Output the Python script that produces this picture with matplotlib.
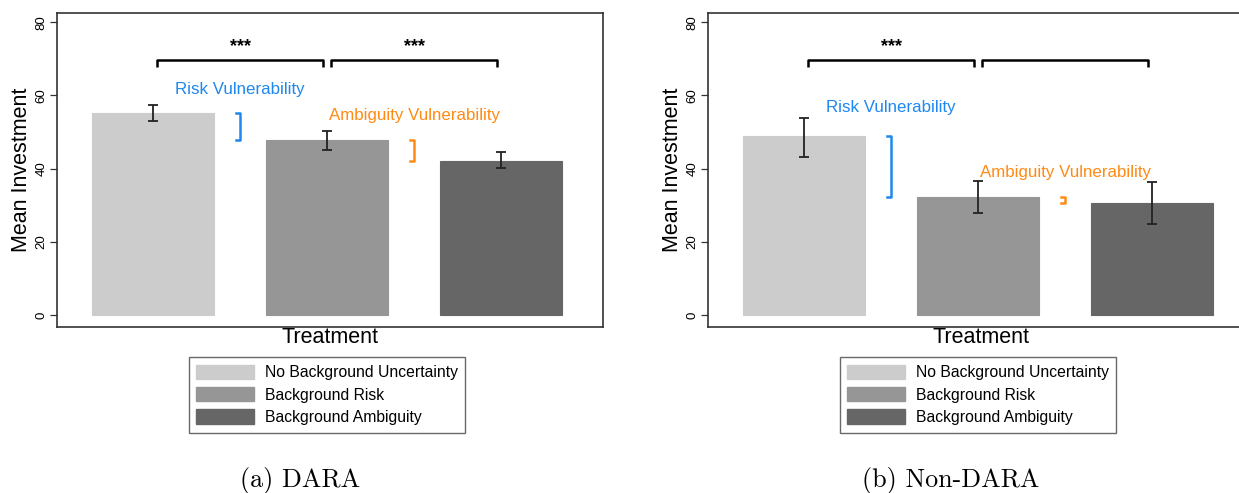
import matplotlib
matplotlib.use("Agg")
import matplotlib.pyplot as plt
from matplotlib.patches import Patch

plt.rcParams["font.family"] = ["Liberation Sans", "DejaVu Sans"]

# data
treatments = ["No Background Uncertainty", "Background Risk", "Background Ambiguity"]
bar_colors = ["#cccccc", "#969696", "#666666"]

dara_mean = [55.2, 47.8, 42.0]
dara_lo = [53.0, 45.1, 40.2]
dara_hi = [57.3, 50.3, 44.5]

nondara_mean = [48.9, 32.2, 30.6]
nondara_lo = [43.2, 27.9, 24.9]
nondara_hi = [53.8, 36.6, 36.3]

# significance stars per bracket (1 vs 2, 2 vs 3)
dara_stars = ["***", "***"]
nondara_stars = ["***", ""]

# y of the vulnerability labels
dara_label_y = [61.7, 54.6]
nondara_label_y = [56.6, 38.8]

captions = ["(a) DARA", "(b) Non-DARA"]

W, H = 1239, 493
fig = plt.figure(figsize=(W / 100, H / 100), dpi=100)


def draw_bracket(ax, x0, x1, y, drop=2.0):
    ax.plot([x0, x0, x1, x1], [y - drop, y, y, y - drop], color="black",
            lw=1.8, solid_joinstyle="round", solid_capstyle="butt", clip_on=False)


def draw_side_bracket(ax, x, y0, y1, color):
    tick = 0.022
    ax.plot([x - tick, x, x, x - tick], [y0, y0, y1, y1], color=color,
            lw=1.8, solid_joinstyle="round")


def panel(left_px, mean, lo, hi, stars, label_y, caption):
    ax = fig.add_axes([left_px / W, 1 - 327 / H, 546 / W, 314 / H])
    xs = [0, 1, 2]
    yerr = [[m - l for m, l in zip(mean, lo)], [h - m for m, h in zip(mean, hi)]]
    ax.bar(xs, mean, width=0.70, color=bar_colors, edgecolor=bar_colors, lw=0.8)
    ax.errorbar(xs, mean, yerr=yerr, fmt="none", ecolor="#222222",
                elinewidth=1.3, capsize=3.5, capthick=1.3)

    # significance brackets
    for i, s in enumerate(stars):
        draw_bracket(ax, i + 0.025, i + 0.975, 69.7)
        if s:
            ax.text(i + 0.5, 73.3, s, ha="center", va="center",
                    fontsize=13, fontweight="bold")

    # vulnerability annotations
    draw_side_bracket(ax, 0.5, mean[0], mean[1], "#1e88f0")
    draw_side_bracket(ax, 1.5, mean[1], mean[2], "#ff8a14")
    ax.text(0.5, label_y[0], "Risk Vulnerability", color="#1e88f0",
            ha="center", va="center", fontsize=12.2)
    ax.text(1.5, label_y[1], "Ambiguity Vulnerability", color="#ff8a14",
            ha="center", va="center", fontsize=12.2)

    ax.set_xlim(-0.552, 2.586)
    ax.set_ylim(-3.3, 82.5)
    ax.set_yticks([0, 20, 40, 60, 80])
    ax.set_xticks([])
    ax.tick_params(axis="y", length=5, width=0.9, labelsize=9.5, pad=2, color="#333333")
    plt.setp(ax.get_yticklabels(), rotation=90, va="center")
    for sp in ax.spines.values():
        sp.set_color("#333333")
        sp.set_linewidth(1.2)
    ax.set_ylabel("Mean Investment", fontsize=15.5, labelpad=2)
    ax.set_xlabel("Treatment", fontsize=15.5, labelpad=0)

    handles = [Patch(facecolor=c, edgecolor=c) for c in bar_colors]
    cx = (left_px + 270) / W
    fig.legend(handles, treatments, loc="upper center",
               bbox_to_anchor=(cx, 1 - 349 / H), fontsize=11.3,
               frameon=True, fancybox=False, edgecolor="#444444",
               handlelength=3.7, handleheight=1.05, handletextpad=0.65,
               labelspacing=0.42, borderpad=0.5)
    fig.text(cx - 27 / W, 1 - 481 / H, caption, ha="center", va="center",
             fontsize=18.8, family="cmr10")
    return ax


panel(57, dara_mean, dara_lo, dara_hi, dara_stars, dara_label_y, captions[0])
panel(708, nondara_mean, nondara_lo, nondara_hi, nondara_stars, nondara_label_y, captions[1])

fig.savefig("out.png", dpi=100)
